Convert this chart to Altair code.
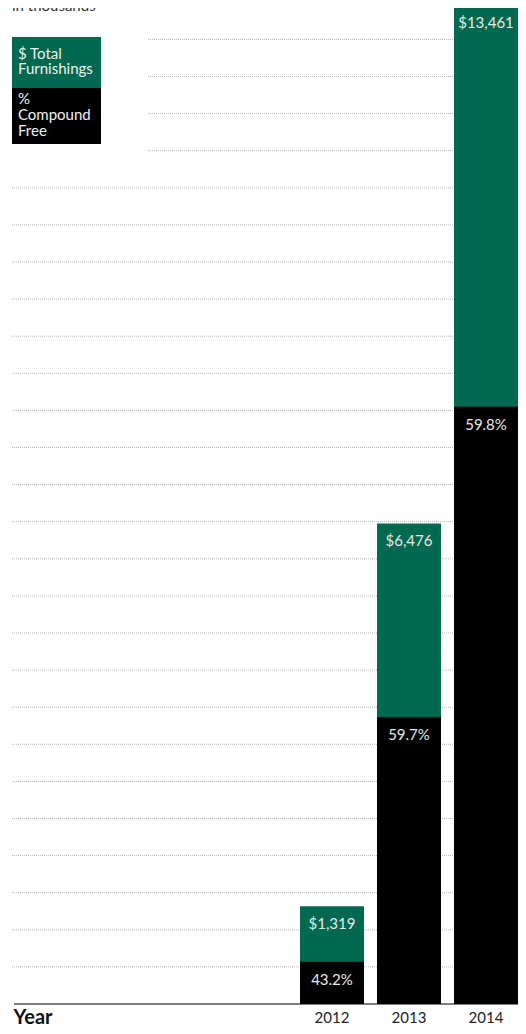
import altair as alt
import pandas as pd

# ---- data ----
years = ["2012", "2013", "2014"]
total_furnishings = [1319, 6476, 13461]          # $ total furnishings, in thousands
pct_compound_free = [43.2, 59.7, 59.8]           # % compound free
total_labels = ["$1,319", "$6,476", "$13,461"]
pct_labels = ["43.2%", "59.7%", "59.8%"]
grid_values = list(range(500, 13001, 500))

df = pd.DataFrame({
    "year": years,
    "total": total_furnishings,
    "pct": pct_compound_free,
    "total_label": total_labels,
    "pct_label": pct_labels,
})
df["free"] = df["total"] * df["pct"] / 100.0
grid_df = pd.DataFrame({"v": grid_values})

GREEN = "#00694F"
FONT = "Lato"
LABEL_COLOR = "#e8e8e8"

x_enc = alt.X(
    "year:N",
    sort=years,
    scale=alt.Scale(range=[288, 506], paddingInner=0.169, paddingOuter=0),
    axis=alt.Axis(
        title="Year",
        titleFont=FONT, titleFontSize=20, titleFontWeight="bold", titleColor="#111111",
        titleAnchor="start", titleAlign="left", titleX=1, titleY=19,
        titleBaseline="alphabetic",
        labelFont=FONT, labelFontSize=15, labelColor="#222222", labelAngle=0,
        labelPadding=18, labelBaseline="alphabetic",
        ticks=False, tickSize=0,
        domain=False,
        grid=False,
    ),
)

y_scale = alt.Scale(domain=[0, 13423], nice=False, zero=True)

# dotted gridlines every 500
grid = alt.Chart(grid_df).mark_rule(
    color="#b4b4b4", strokeWidth=1, strokeDash=[1, 1]
).encode(
    y=alt.Y("v:Q", scale=y_scale, axis=None),
    x=alt.value(0), x2=alt.value(506),
)

base = alt.Chart(df)

green_bars = base.mark_bar(color=GREEN).encode(
    x=x_enc,
    y=alt.Y("total:Q", scale=y_scale, axis=None),
)
black_bars = base.mark_bar(color="#000000").encode(
    x=alt.X("year:N", sort=years),
    y=alt.Y("free:Q"),
)
total_text = base.mark_text(
    dy=23, baseline="alphabetic", align="center", color=LABEL_COLOR, font=FONT, fontSize=15
).encode(x=alt.X("year:N", sort=years), y=alt.Y("total:Q"), text="total_label:N")
pct_text = base.mark_text(
    dy=23, baseline="alphabetic", align="center", color=LABEL_COLOR, font=FONT, fontSize=15
).encode(x=alt.X("year:N", sort=years), y=alt.Y("free:Q"), text="pct_label:N")

one = alt.Chart(pd.DataFrame({"k": [0]}))

baseline_rule = one.mark_rule(color="#000000", strokeWidth=1).encode(
    y=alt.datum(0), x=alt.value(2), x2=alt.value(506)
)

# white area behind the key (gridlines do not run through it)
mask = one.mark_rect(color="white").encode(
    x=alt.value(0), x2=alt.value(135), y=alt.value(24), y2=alt.value(162)
)
key_green = one.mark_rect(color=GREEN).encode(
    x=alt.value(0), x2=alt.value(89), y=alt.value(29), y2=alt.value(80)
)
key_black = one.mark_rect(color="#000000").encode(
    x=alt.value(0), x2=alt.value(89), y=alt.value(80), y2=alt.value(136)
)
key_green_text = one.mark_text(
    align="left", baseline="alphabetic", color="#f0f0f0", font=FONT, fontSize=15,
    lineBreak="\n", lineHeight=15,
).encode(x=alt.value(6), y=alt.value(51), text=alt.value("$ Total\nFurnishings"))
key_black_text = one.mark_text(
    align="left", baseline="alphabetic", color="#f0f0f0", font=FONT, fontSize=15,
    lineBreak="\n", lineHeight=16,
).encode(x=alt.value(6), y=alt.value(96), text=alt.value("%\nCompound\nFree"))

units_text = one.mark_text(
    align="left", baseline="alphabetic", color="#333333", font=FONT, fontSize=15
).encode(x=alt.value(0), y=alt.value(3), text=alt.value("in thousands"))

chart = alt.layer(
    grid, mask, green_bars, black_bars, total_text, pct_text, baseline_rule,
    key_green, key_black, key_green_text, key_black_text, units_text,
).properties(
    width=506,
    height=996,
    autosize=alt.AutoSizeParams(type="none"),
    padding={"left": 4, "top": 0, "right": 0, "bottom": 22},
    background="white",
).configure_view(stroke=None)

chart.save("out.html", embed_options={"renderer": "svg", "actions": False})
